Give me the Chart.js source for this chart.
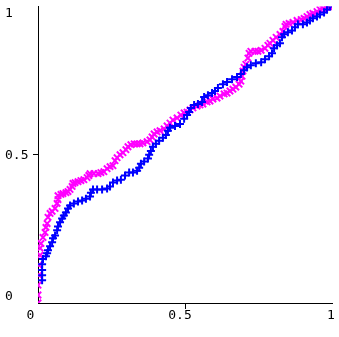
<!DOCTYPE html>
<html lang="en">
<head>
    <meta charset="UTF-8">
    <script src="https://cdn.jsdelivr.net/npm/chart.js"></script>
    <title>Document</title>
    <style>
        body { margin: 0; background: #fff; }
    </style>
</head>
<body>
    <canvas id="myChart" width="339" height="337"></canvas>
</body>

<script>
    // magenta series (x markers)
    const magX = [0, 0, 0, 0.003, 0.003, 0.007, 0.007, 0.010, 0.017, 0.024, 0.027, 0.031, 0.034, 0.041, 0.048, 0.058, 0.065, 0.068, 0.068, 0.078,
        0.085, 0.095, 0.102, 0.109, 0.116, 0.119, 0.126, 0.136, 0.146, 0.156, 0.167, 0.173, 0.177, 0.190, 0.204, 0.214, 0.224, 0.235, 0.245, 0.255,
        0.262, 0.269, 0.279, 0.289, 0.299, 0.306, 0.316, 0.327, 0.337, 0.347, 0.357, 0.371, 0.381, 0.388, 0.395, 0.405, 0.415, 0.429, 0.439, 0.449,
        0.459, 0.473, 0.486, 0.497, 0.507, 0.517, 0.527, 0.541, 0.551, 0.561, 0.575, 0.585, 0.595, 0.609, 0.619, 0.633, 0.643, 0.653, 0.663, 0.673,
        0.684, 0.690, 0.694, 0.697, 0.701, 0.707, 0.714, 0.718, 0.724, 0.738, 0.748, 0.759, 0.772, 0.782, 0.789, 0.799, 0.810, 0.823, 0.833, 0.840,
        0.844, 0.854, 0.867, 0.881, 0.895, 0.905, 0.915, 0.925, 0.935, 0.949, 0.959, 0.969, 0.980, 0.990, 1.0];
    const magY = [0, 0.027, 0.060, 0.094, 0.128, 0.161, 0.185, 0.201, 0.221, 0.238, 0.255, 0.268, 0.289, 0.302, 0.309, 0.319, 0.336, 0.349, 0.362, 0.366,
        0.369, 0.372, 0.376, 0.383, 0.393, 0.403, 0.406, 0.409, 0.413, 0.416, 0.423, 0.430, 0.436, 0.436, 0.436, 0.440, 0.443, 0.453, 0.460, 0.463,
        0.480, 0.490, 0.500, 0.507, 0.517, 0.527, 0.534, 0.537, 0.537, 0.537, 0.540, 0.544, 0.550, 0.560, 0.570, 0.577, 0.581, 0.587, 0.597, 0.607,
        0.617, 0.624, 0.634, 0.641, 0.644, 0.651, 0.658, 0.664, 0.668, 0.671, 0.678, 0.681, 0.688, 0.691, 0.698, 0.705, 0.708, 0.715, 0.721, 0.728,
        0.738, 0.748, 0.765, 0.782, 0.795, 0.805, 0.826, 0.842, 0.849, 0.849, 0.849, 0.852, 0.859, 0.869, 0.876, 0.886, 0.896, 0.906, 0.916, 0.933,
        0.940, 0.943, 0.946, 0.953, 0.956, 0.960, 0.966, 0.973, 0.977, 0.983, 0.990, 0.993, 0.997, 1.0, 1.0];

    // blue series (+ markers)
    const bluX = [0.014, 0.014, 0.014, 0.014, 0.017, 0.027, 0.031, 0.034, 0.041, 0.048, 0.051, 0.058, 0.065, 0.068, 0.075, 0.082, 0.088, 0.095, 0.102, 0.109,
        0.122, 0.136, 0.150, 0.163, 0.177, 0.180, 0.187, 0.201, 0.218, 0.235, 0.245, 0.255, 0.269, 0.282, 0.296, 0.310, 0.323, 0.337, 0.344, 0.350,
        0.361, 0.374, 0.378, 0.384, 0.391, 0.401, 0.412, 0.425, 0.435, 0.442, 0.449, 0.466, 0.483, 0.497, 0.507, 0.514, 0.520, 0.531, 0.544, 0.558,
        0.565, 0.578, 0.592, 0.602, 0.612, 0.629, 0.643, 0.660, 0.677, 0.690, 0.701, 0.711, 0.724, 0.741, 0.759, 0.772, 0.786, 0.796, 0.803, 0.813,
        0.823, 0.830, 0.837, 0.850, 0.864, 0.874, 0.884, 0.901, 0.915, 0.925, 0.935, 0.949, 0.959, 0.973, 0.983, 0.993];
    const bluY = [0.077, 0.094, 0.111, 0.131, 0.148, 0.158, 0.168, 0.178, 0.191, 0.205, 0.218, 0.228, 0.245, 0.258, 0.272, 0.285, 0.295, 0.305, 0.319, 0.329,
        0.336, 0.342, 0.346, 0.352, 0.359, 0.372, 0.383, 0.383, 0.383, 0.386, 0.393, 0.406, 0.413, 0.416, 0.430, 0.440, 0.440, 0.446, 0.456, 0.470,
        0.477, 0.487, 0.500, 0.513, 0.527, 0.537, 0.547, 0.557, 0.567, 0.581, 0.591, 0.597, 0.604, 0.621, 0.634, 0.644, 0.658, 0.668, 0.671, 0.678,
        0.695, 0.701, 0.708, 0.715, 0.725, 0.738, 0.745, 0.755, 0.762, 0.772, 0.785, 0.795, 0.802, 0.809, 0.812, 0.822, 0.832, 0.842, 0.859, 0.869,
        0.876, 0.896, 0.906, 0.913, 0.919, 0.930, 0.940, 0.940, 0.946, 0.953, 0.960, 0.966, 0.973, 0.980, 0.990, 1.0];

    const xTicks = [0, 0.5, 1];
    const xLabels = ['0', '0.5', '1'];
    const yTicks = [0, 0.5, 1];
    const yLabels = ['0', '0.5', '1'];

    function toPoints(xs, ys) {
        return xs.map((v, i) => ({x: v, y: ys[i]}));
    }

    // gnuplot-ish tick labels, each nudged a bit like in the original
    const tickLabels = {
        id: 'tickLabels',
        afterDraw(chart) {
            const {ctx, scales: {x, y}} = chart;
            ctx.save();
            ctx.font = '13px "DejaVu Sans Mono"';
            ctx.fillStyle = '#000';
            ctx.textBaseline = 'middle';

            const xShift = [-7.5, -5, -1];
            ctx.textAlign = 'center';
            xTicks.forEach((v, i) => {
                ctx.fillText(xLabels[i], x.getPixelForValue(v) + xShift[i], 316);
            });

            const yShift = [-6, 1, 7];
            ctx.textAlign = 'left';
            yTicks.forEach((v, i) => {
                ctx.fillText(yLabels[i], 5, y.getPixelForValue(v) + yShift[i]);
            });
            ctx.restore();
        }
    };

    const onlyMiddle = (c) => c.tick && c.tick.value === 0.5 ? '#000' : 'rgba(0,0,0,0)';

    const ctx = document.getElementById('myChart');

    new Chart(ctx, {
        type: 'scatter',
        data: {
            datasets: [{
                label: 'blue',
                data: toPoints(bluX, bluY),
                pointStyle: 'cross',
                pointRadius: 4,
                pointBorderWidth: 2,
                borderColor: '#0000ff',
                backgroundColor: '#0000ff',
                showLine: false
            }, {
                label: 'magenta',
                data: toPoints(magX, magY),
                pointStyle: 'crossRot',
                pointRadius: 4.5,
                pointBorderWidth: 2,
                borderColor: '#ff00ff',
                backgroundColor: '#ff00ff',
                showLine: false
            }]
        },
        options: {
            responsive: false,
            animation: false,
            layout: { padding: { top: 5, right: 7, left: 0, bottom: 0 } },
            plugins: {
                legend: { display: false },
                tooltip: { enabled: false }
            },
            scales: {
                x: {
                    type: 'linear',
                    min: 0,
                    max: 1,
                    afterFit: (s) => { s.height = 34; },
                    afterBuildTicks: (s) => { s.ticks = xTicks.map(v => ({value: v})); },
                    ticks: { display: false },
                    grid: { drawOnChartArea: false, drawTicks: true, tickLength: 6, color: onlyMiddle, tickColor: onlyMiddle },
                    border: { display: true, color: '#000', width: 1 }
                },
                y: {
                    type: 'linear',
                    min: 0,
                    max: 1,
                    afterFit: (s) => { s.width = 38; },
                    afterBuildTicks: (s) => { s.ticks = yTicks.map(v => ({value: v})); },
                    ticks: { display: false },
                    grid: { drawOnChartArea: false, drawTicks: true, tickLength: 5, color: onlyMiddle, tickColor: onlyMiddle },
                    border: { display: true, color: '#000', width: 1 }
                }
            }
        },
        plugins: [tickLabels]
    });
</script>
</html>
